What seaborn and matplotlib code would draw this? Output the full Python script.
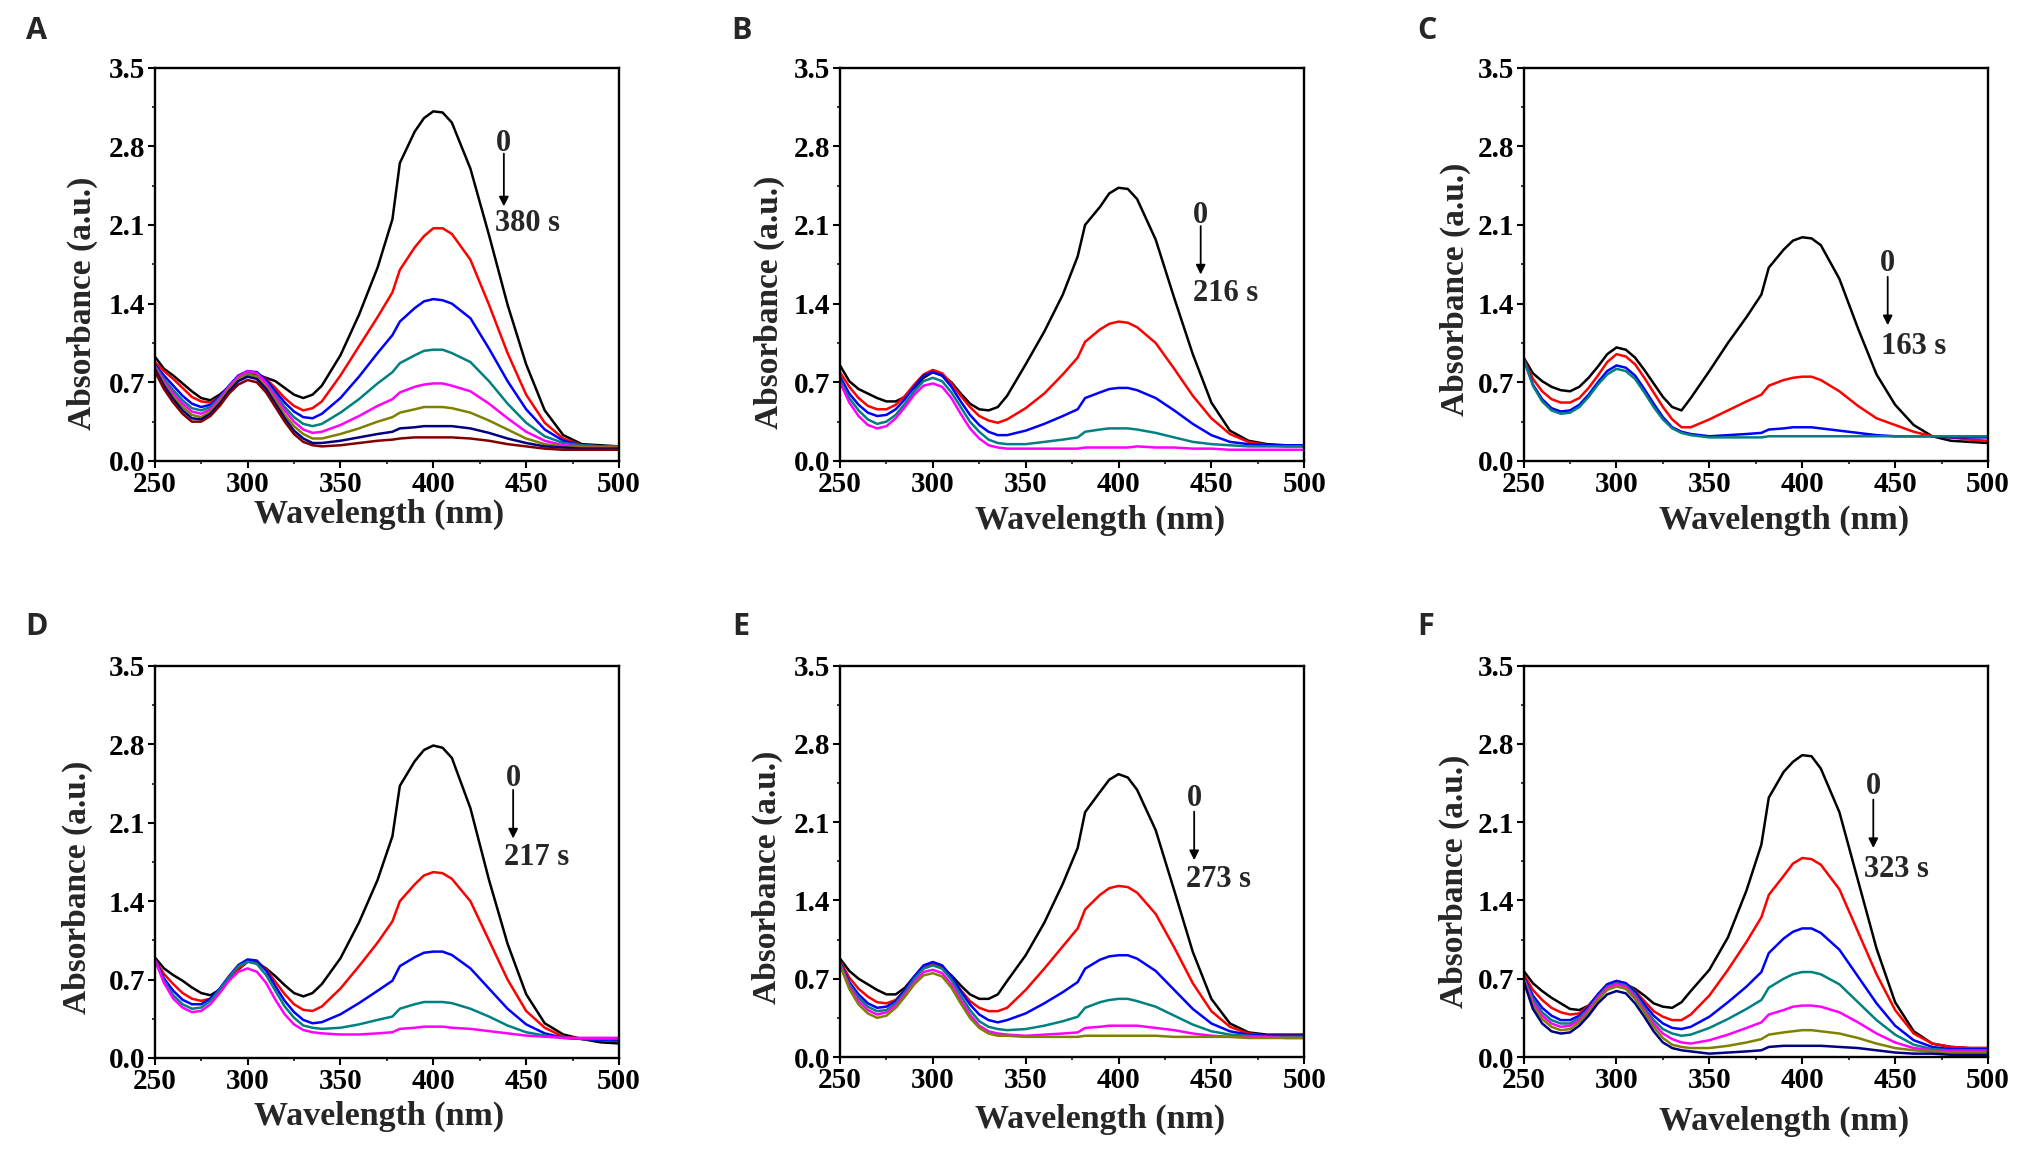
import matplotlib
matplotlib.use("Agg")
import matplotlib.pyplot as plt
import seaborn as sns
import pandas as pd
from matplotlib.ticker import MultipleLocator, FormatStrFormatter

# ---------------- data ----------------
wl = [250, 255, 260, 265, 270, 275, 280, 285, 290, 295, 300, 305, 310, 315, 320, 325, 330, 335,
      340, 350, 360, 370, 378, 382, 390, 395, 400, 405, 410, 420, 430, 440, 450, 460, 470, 480, 490, 500]

# Panel A (0 -> 380 s)
a_1 = [0.93, 0.82, 0.76, 0.69, 0.62, 0.56, 0.54, 0.59, 0.66, 0.73, 0.77, 0.77, 0.74, 0.71, 0.65, 0.59, 0.56, 0.59,
       0.67, 0.94, 1.30, 1.72, 2.15, 2.65, 2.93, 3.05, 3.11, 3.10, 3.01, 2.60, 2.01, 1.39, 0.86, 0.45, 0.23, 0.15, 0.14, 0.13]
a_2 = [0.88, 0.80, 0.73, 0.65, 0.57, 0.53, 0.52, 0.57, 0.66, 0.74, 0.78, 0.78, 0.73, 0.65, 0.56, 0.49, 0.45, 0.47,
       0.53, 0.76, 1.02, 1.28, 1.50, 1.70, 1.90, 2.00, 2.07, 2.07, 2.02, 1.79, 1.39, 0.96, 0.59, 0.34, 0.20, 0.14, 0.13, 0.12]
a_3 = [0.86, 0.76, 0.67, 0.58, 0.51, 0.48, 0.50, 0.57, 0.67, 0.76, 0.80, 0.79, 0.72, 0.62, 0.52, 0.44, 0.39, 0.38,
       0.42, 0.56, 0.75, 0.96, 1.12, 1.24, 1.36, 1.42, 1.44, 1.43, 1.40, 1.27, 1.00, 0.71, 0.46, 0.28, 0.18, 0.14, 0.13, 0.13]
a_4 = [0.85, 0.73, 0.63, 0.54, 0.47, 0.45, 0.48, 0.56, 0.66, 0.75, 0.79, 0.78, 0.70, 0.59, 0.48, 0.39, 0.33, 0.31,
       0.33, 0.43, 0.55, 0.69, 0.79, 0.87, 0.94, 0.98, 0.99, 0.99, 0.96, 0.88, 0.71, 0.51, 0.34, 0.22, 0.16, 0.14, 0.13, 0.13]
a_5 = [0.84, 0.71, 0.60, 0.51, 0.44, 0.42, 0.46, 0.55, 0.66, 0.75, 0.80, 0.78, 0.69, 0.57, 0.45, 0.35, 0.28, 0.25,
       0.26, 0.32, 0.40, 0.49, 0.55, 0.61, 0.66, 0.68, 0.69, 0.69, 0.67, 0.62, 0.51, 0.38, 0.26, 0.18, 0.14, 0.13, 0.12, 0.12]
a_6 = [0.83, 0.69, 0.57, 0.48, 0.41, 0.39, 0.44, 0.53, 0.64, 0.73, 0.77, 0.75, 0.66, 0.54, 0.41, 0.31, 0.24, 0.20,
       0.20, 0.24, 0.29, 0.35, 0.39, 0.43, 0.46, 0.48, 0.48, 0.48, 0.47, 0.43, 0.36, 0.28, 0.20, 0.15, 0.13, 0.12, 0.12, 0.12]
a_7 = [0.82, 0.67, 0.55, 0.45, 0.38, 0.37, 0.42, 0.51, 0.62, 0.71, 0.75, 0.73, 0.64, 0.51, 0.38, 0.27, 0.20, 0.16,
       0.16, 0.18, 0.21, 0.24, 0.26, 0.29, 0.30, 0.31, 0.31, 0.31, 0.31, 0.29, 0.25, 0.20, 0.16, 0.13, 0.12, 0.11, 0.11, 0.11]
a_8 = [0.80, 0.64, 0.52, 0.42, 0.35, 0.35, 0.40, 0.49, 0.60, 0.68, 0.72, 0.70, 0.61, 0.48, 0.35, 0.24, 0.17, 0.14,
       0.13, 0.14, 0.16, 0.18, 0.19, 0.20, 0.21, 0.21, 0.21, 0.21, 0.21, 0.20, 0.18, 0.15, 0.13, 0.11, 0.10, 0.10, 0.10, 0.10]

# Panel B (0 -> 216 s)
b_1 = [0.85, 0.71, 0.64, 0.60, 0.56, 0.53, 0.53, 0.57, 0.65, 0.74, 0.79, 0.76, 0.70, 0.60, 0.51, 0.46, 0.45, 0.48,
       0.58, 0.86, 1.15, 1.48, 1.82, 2.10, 2.26, 2.38, 2.43, 2.42, 2.33, 1.97, 1.45, 0.95, 0.52, 0.27, 0.18, 0.15, 0.14, 0.14]
b_2 = [0.79, 0.66, 0.56, 0.49, 0.46, 0.46, 0.50, 0.58, 0.68, 0.77, 0.81, 0.78, 0.69, 0.58, 0.48, 0.40, 0.36, 0.34,
       0.37, 0.47, 0.60, 0.77, 0.92, 1.06, 1.17, 1.22, 1.24, 1.23, 1.19, 1.05, 0.82, 0.58, 0.38, 0.24, 0.17, 0.14, 0.13, 0.13]
b_3 = [0.75, 0.60, 0.50, 0.43, 0.40, 0.41, 0.46, 0.55, 0.66, 0.76, 0.79, 0.76, 0.66, 0.53, 0.41, 0.32, 0.26, 0.23,
       0.23, 0.27, 0.33, 0.40, 0.46, 0.56, 0.61, 0.64, 0.65, 0.65, 0.63, 0.56, 0.45, 0.33, 0.23, 0.17, 0.15, 0.14, 0.14, 0.14]
b_4 = [0.72, 0.56, 0.45, 0.37, 0.33, 0.35, 0.41, 0.51, 0.62, 0.71, 0.74, 0.71, 0.61, 0.48, 0.35, 0.26, 0.19, 0.16,
       0.15, 0.15, 0.17, 0.19, 0.21, 0.26, 0.28, 0.29, 0.29, 0.29, 0.28, 0.25, 0.21, 0.17, 0.15, 0.14, 0.13, 0.13, 0.13, 0.13]
b_5 = [0.70, 0.52, 0.40, 0.32, 0.29, 0.31, 0.38, 0.48, 0.59, 0.67, 0.69, 0.66, 0.56, 0.42, 0.29, 0.20, 0.14, 0.12,
       0.11, 0.11, 0.11, 0.11, 0.11, 0.12, 0.12, 0.12, 0.12, 0.12, 0.13, 0.12, 0.12, 0.11, 0.11, 0.10, 0.10, 0.10, 0.10, 0.10]

# Panel C (0 -> 163 s)
c_1 = [0.92, 0.78, 0.71, 0.66, 0.63, 0.62, 0.66, 0.74, 0.84, 0.95, 1.01, 0.99, 0.92, 0.81, 0.69, 0.57, 0.48, 0.45,
       0.56, 0.80, 1.05, 1.28, 1.48, 1.72, 1.88, 1.96, 1.99, 1.98, 1.92, 1.62, 1.18, 0.77, 0.50, 0.32, 0.22, 0.18, 0.17, 0.16]
c_2 = [0.91, 0.73, 0.62, 0.55, 0.52, 0.52, 0.56, 0.65, 0.76, 0.88, 0.95, 0.93, 0.86, 0.74, 0.61, 0.48, 0.37, 0.30,
       0.30, 0.37, 0.45, 0.53, 0.59, 0.67, 0.72, 0.74, 0.75, 0.75, 0.72, 0.62, 0.49, 0.38, 0.32, 0.26, 0.22, 0.21, 0.19, 0.18]
c_3 = [0.91, 0.68, 0.55, 0.47, 0.44, 0.45, 0.50, 0.59, 0.70, 0.80, 0.85, 0.83, 0.76, 0.64, 0.51, 0.39, 0.30, 0.26,
       0.24, 0.22, 0.23, 0.24, 0.25, 0.28, 0.29, 0.30, 0.30, 0.30, 0.29, 0.27, 0.25, 0.23, 0.22, 0.22, 0.22, 0.21, 0.21, 0.21]
c_4 = [0.91, 0.67, 0.53, 0.45, 0.42, 0.43, 0.48, 0.57, 0.68, 0.77, 0.82, 0.80, 0.73, 0.61, 0.48, 0.37, 0.29, 0.25,
       0.23, 0.21, 0.21, 0.21, 0.21, 0.22, 0.22, 0.22, 0.22, 0.22, 0.22, 0.22, 0.22, 0.22, 0.22, 0.22, 0.22, 0.22, 0.22, 0.22]

# Panel D (0 -> 217 s)
d_1 = [0.90, 0.80, 0.74, 0.69, 0.63, 0.58, 0.56, 0.61, 0.70, 0.79, 0.86, 0.85, 0.80, 0.73, 0.65, 0.58, 0.55, 0.58,
       0.66, 0.89, 1.21, 1.59, 1.98, 2.43, 2.65, 2.75, 2.79, 2.77, 2.68, 2.23, 1.59, 1.02, 0.57, 0.31, 0.21, 0.17, 0.14, 0.13]
d_2 = [0.88, 0.75, 0.66, 0.58, 0.53, 0.51, 0.53, 0.60, 0.70, 0.80, 0.86, 0.86, 0.79, 0.68, 0.57, 0.48, 0.43, 0.42,
       0.46, 0.62, 0.82, 1.03, 1.22, 1.40, 1.55, 1.63, 1.66, 1.65, 1.60, 1.40, 1.05, 0.70, 0.42, 0.27, 0.19, 0.17, 0.16, 0.15]
d_3 = [0.88, 0.71, 0.60, 0.52, 0.48, 0.48, 0.53, 0.62, 0.73, 0.83, 0.88, 0.87, 0.78, 0.64, 0.51, 0.41, 0.34, 0.31,
       0.32, 0.39, 0.49, 0.60, 0.69, 0.82, 0.90, 0.94, 0.95, 0.95, 0.92, 0.80, 0.62, 0.44, 0.30, 0.22, 0.18, 0.17, 0.16, 0.16]
d_4 = [0.88, 0.69, 0.56, 0.48, 0.44, 0.45, 0.51, 0.61, 0.72, 0.82, 0.86, 0.84, 0.74, 0.60, 0.46, 0.36, 0.29, 0.27,
       0.26, 0.27, 0.30, 0.34, 0.37, 0.44, 0.48, 0.50, 0.50, 0.50, 0.49, 0.44, 0.37, 0.29, 0.23, 0.20, 0.18, 0.17, 0.17, 0.17]
d_5 = [0.88, 0.67, 0.53, 0.45, 0.41, 0.42, 0.48, 0.58, 0.69, 0.77, 0.80, 0.77, 0.67, 0.52, 0.39, 0.30, 0.25, 0.23,
       0.22, 0.21, 0.21, 0.22, 0.23, 0.26, 0.27, 0.28, 0.28, 0.28, 0.27, 0.26, 0.24, 0.22, 0.20, 0.19, 0.18, 0.18, 0.18, 0.18]

# Panel E (0 -> 273 s)
e_1 = [0.88, 0.77, 0.70, 0.65, 0.60, 0.56, 0.56, 0.62, 0.72, 0.81, 0.83, 0.80, 0.73, 0.64, 0.56, 0.52, 0.52, 0.56,
       0.68, 0.91, 1.20, 1.55, 1.87, 2.19, 2.37, 2.48, 2.53, 2.50, 2.39, 2.03, 1.49, 0.94, 0.52, 0.30, 0.22, 0.20, 0.20, 0.20]
e_2 = [0.86, 0.71, 0.61, 0.54, 0.49, 0.48, 0.51, 0.60, 0.71, 0.80, 0.83, 0.80, 0.71, 0.60, 0.50, 0.44, 0.41, 0.41,
       0.44, 0.60, 0.79, 0.99, 1.15, 1.32, 1.45, 1.51, 1.53, 1.52, 1.47, 1.28, 0.98, 0.66, 0.41, 0.27, 0.21, 0.19, 0.19, 0.19]
e_3 = [0.85, 0.67, 0.56, 0.48, 0.44, 0.45, 0.50, 0.60, 0.72, 0.82, 0.85, 0.82, 0.72, 0.59, 0.47, 0.38, 0.33, 0.31,
       0.33, 0.39, 0.48, 0.58, 0.67, 0.79, 0.87, 0.90, 0.91, 0.91, 0.88, 0.77, 0.60, 0.43, 0.30, 0.23, 0.20, 0.19, 0.19, 0.19]
e_4 = [0.84, 0.65, 0.53, 0.45, 0.41, 0.42, 0.48, 0.58, 0.70, 0.79, 0.82, 0.79, 0.69, 0.55, 0.42, 0.32, 0.27, 0.25,
       0.24, 0.25, 0.28, 0.32, 0.36, 0.44, 0.49, 0.51, 0.52, 0.52, 0.50, 0.45, 0.37, 0.29, 0.23, 0.20, 0.19, 0.18, 0.18, 0.18]
e_5 = [0.83, 0.63, 0.50, 0.42, 0.38, 0.40, 0.46, 0.56, 0.67, 0.76, 0.78, 0.75, 0.65, 0.51, 0.38, 0.28, 0.23, 0.21,
       0.20, 0.19, 0.20, 0.21, 0.22, 0.26, 0.27, 0.28, 0.28, 0.28, 0.28, 0.26, 0.24, 0.21, 0.19, 0.18, 0.18, 0.18, 0.17, 0.17]
e_6 = [0.82, 0.61, 0.47, 0.39, 0.35, 0.37, 0.44, 0.54, 0.65, 0.73, 0.75, 0.72, 0.62, 0.48, 0.35, 0.26, 0.21, 0.19,
       0.19, 0.18, 0.18, 0.18, 0.18, 0.19, 0.19, 0.19, 0.19, 0.19, 0.19, 0.19, 0.18, 0.18, 0.18, 0.18, 0.17, 0.17, 0.17, 0.17]

# Panel F (0 -> 323 s)
f_1 = [0.77, 0.66, 0.59, 0.53, 0.48, 0.43, 0.42, 0.46, 0.55, 0.63, 0.67, 0.65, 0.61, 0.55, 0.48, 0.45, 0.44, 0.49,
       0.59, 0.78, 1.07, 1.49, 1.90, 2.32, 2.55, 2.64, 2.70, 2.69, 2.58, 2.19, 1.58, 0.97, 0.49, 0.23, 0.12, 0.09, 0.08, 0.08]
f_2 = [0.74, 0.60, 0.51, 0.44, 0.40, 0.38, 0.39, 0.46, 0.56, 0.65, 0.68, 0.66, 0.59, 0.50, 0.41, 0.36, 0.33, 0.33,
       0.38, 0.55, 0.78, 1.03, 1.25, 1.45, 1.62, 1.73, 1.78, 1.77, 1.72, 1.50, 1.12, 0.74, 0.42, 0.21, 0.12, 0.09, 0.08, 0.08]
f_3 = [0.72, 0.55, 0.44, 0.37, 0.33, 0.33, 0.37, 0.45, 0.56, 0.65, 0.68, 0.66, 0.58, 0.47, 0.37, 0.30, 0.26, 0.25,
       0.27, 0.36, 0.49, 0.63, 0.76, 0.93, 1.06, 1.12, 1.15, 1.15, 1.11, 0.96, 0.72, 0.48, 0.28, 0.15, 0.09, 0.07, 0.07, 0.07]
f_4 = [0.71, 0.52, 0.40, 0.33, 0.30, 0.30, 0.35, 0.43, 0.54, 0.63, 0.66, 0.64, 0.56, 0.44, 0.33, 0.25, 0.21, 0.19,
       0.20, 0.26, 0.34, 0.43, 0.51, 0.62, 0.70, 0.74, 0.76, 0.76, 0.74, 0.65, 0.49, 0.33, 0.20, 0.11, 0.07, 0.06, 0.06, 0.06]
f_5 = [0.70, 0.49, 0.37, 0.30, 0.27, 0.28, 0.33, 0.42, 0.53, 0.62, 0.65, 0.63, 0.54, 0.42, 0.30, 0.21, 0.16, 0.13,
       0.12, 0.15, 0.20, 0.26, 0.31, 0.38, 0.42, 0.45, 0.46, 0.46, 0.45, 0.40, 0.31, 0.21, 0.13, 0.08, 0.06, 0.05, 0.05, 0.05]
f_6 = [0.69, 0.46, 0.34, 0.27, 0.24, 0.25, 0.31, 0.40, 0.51, 0.60, 0.63, 0.61, 0.52, 0.40, 0.27, 0.17, 0.11, 0.09,
       0.08, 0.08, 0.10, 0.13, 0.16, 0.20, 0.22, 0.23, 0.24, 0.24, 0.23, 0.21, 0.17, 0.12, 0.08, 0.06, 0.05, 0.04, 0.04, 0.04]
f_7 = [0.68, 0.43, 0.30, 0.23, 0.21, 0.22, 0.28, 0.37, 0.48, 0.56, 0.59, 0.57, 0.48, 0.36, 0.23, 0.13, 0.08, 0.06,
       0.05, 0.03, 0.04, 0.05, 0.06, 0.09, 0.10, 0.10, 0.10, 0.10, 0.10, 0.09, 0.08, 0.06, 0.04, 0.03, 0.03, 0.02, 0.02, 0.02]

panel_letters = ["A", "B", "C", "D", "E", "F"]
end_times = ["380 s", "216 s", "163 s", "217 s", "273 s", "323 s"]
x_ticks = [250, 300, 350, 400, 450, 500]
y_ticks = [0.0, 0.7, 1.4, 2.1, 2.8, 3.5]

# ---------------- style ----------------
line_colors = ["#000000", "#FF0000", "#0000FF", "#008080", "#FF00FF", "#808000", "#000080", "#800000"]

sns.set_theme(style="ticks")
plt.rcParams['font.family'] = ['Liberation Serif', 'DejaVu Serif']
plt.rcParams['font.weight'] = 'bold'
plt.rcParams['axes.labelweight'] = 'bold'

W, H = 2027, 1164
fig = plt.figure(figsize=(W / 100, H / 100), dpi=100)
fig.patch.set_facecolor('white')

axes_px = [  # left, top, right, bottom (pixels)
    (154.7, 67.5, 619.0, 461.0),
    (840.0, 67.5, 1304.2, 461.0),
    (1523.6, 67.5, 1988.0, 461.0),
    (154.7, 666.0, 619.0, 1058.0),
    (840.0, 665.7, 1304.2, 1057.0),
    (1523.6, 665.7, 1988.0, 1057.0),
]
letter_px = [(36, 31), (741, 31), (1427, 31), (36, 627), (741, 627), (1426, 627)]
ylabel_pos = [(-0.155, 0.40), (-0.152, 0.403), (-0.146, 0.436), (-0.166, 0.435), (-0.157, 0.458), (-0.150, 0.448)]
xlabel_pos = [(0.483, -0.135), (0.56, -0.150), (0.56, -0.150), (0.483, -0.148), (0.56, -0.160), (0.56, -0.165)]
# annotation: (x of "0", y of "0", arrow start y, arrow end y, x of time text, y of time text)
annot = [
    (0.752, 0.807, 0.781, 0.647, 0.732, 0.603),
    (0.777, 0.625, 0.597, 0.474, 0.760, 0.425),
    (0.784, 0.501, 0.468, 0.345, 0.770, 0.290),
    (0.772, 0.712, 0.684, 0.560, 0.752, 0.511),
    (0.763, 0.660, 0.627, 0.503, 0.746, 0.453),
    (0.753, 0.691, 0.658, 0.534, 0.734, 0.479),
]

panel_series = [
    [a_1, a_2, a_3, a_4, a_5, a_6, a_7, a_8],
    [b_1, b_2, b_3, b_4, b_5],
    [c_1, c_2, c_3, c_4],
    [d_1, d_2, d_3, d_4, d_5],
    [e_1, e_2, e_3, e_4, e_5, e_6],
    [f_1, f_2, f_3, f_4, f_5, f_6, f_7],
]

for i, series in enumerate(panel_series):
    l, t, r, b = axes_px[i]
    ax = fig.add_axes([l / W, 1 - b / H, (r - l) / W, (b - t) / H])
    names, xs, ys = [], [], []
    for k, s in enumerate(series):
        names += [f"s{k}"] * len(wl)
        xs += wl
        ys += s
    df = pd.DataFrame({"wl": xs, "A": ys, "curve": names})
    order = [f"s{k}" for k in range(len(series))]
    pal = {f"s{k}": line_colors[k] for k in range(len(series))}
    sns.lineplot(data=df, x="wl", y="A", hue="curve", hue_order=order, palette=pal,
                 estimator=None, sort=False, legend=False, linewidth=1.8, ax=ax)

    ax.set_xlim(250, 500)
    ax.set_ylim(0, 3.5)
    ax.set_xticks(x_ticks)
    ax.set_yticks(y_ticks)
    ax.xaxis.set_minor_locator(MultipleLocator(25))
    ax.yaxis.set_minor_locator(MultipleLocator(0.35))
    ax.yaxis.set_major_formatter(FormatStrFormatter('%.1f'))
    ax.tick_params(which='major', direction='out', length=5, width=1.5, labelsize=21, pad=2,
                   colors='black', top=False, right=False)
    ax.tick_params(which='minor', direction='out', length=2.5, width=1.3, top=False, right=False)
    for lab in ax.get_xticklabels() + ax.get_yticklabels():
        lab.set_fontweight('bold')
    for sp in ax.spines.values():
        sp.set_visible(True)
        sp.set_linewidth(1.7)
        sp.set_color('black')
    ax.grid(False)

    ax.set_xlabel("Wavelength (nm)", fontsize=24.5, fontweight='bold')
    ax.set_ylabel("Absorbance (a.u.)", fontsize=24, fontweight='bold')
    ax.xaxis.set_label_coords(*xlabel_pos[i])
    ax.yaxis.set_label_coords(*ylabel_pos[i])
    ax.xaxis.label.set_verticalalignment('center')
    ax.yaxis.label.set_verticalalignment('center')

    x0, y0, ya, yb, xt, yt = annot[i]
    ax.text(x0, y0, "0", transform=ax.transAxes, ha='center', va='center',
            fontsize=22, fontweight='bold')
    ax.annotate("", xy=(x0, yb), xytext=(x0, ya), xycoords='axes fraction',
                arrowprops=dict(arrowstyle='-|>', color='black', lw=1.3,
                                mutation_scale=14, shrinkA=0, shrinkB=0))
    ax.text(xt, yt, end_times[i], transform=ax.transAxes, ha='left', va='center',
            fontsize=22, fontweight='bold')

    lx, ly = letter_px[i]
    fig.text(lx / W, 1 - ly / H, panel_letters[i], ha='center', va='center',
             fontsize=22, fontweight='bold', family=['Open Sans', 'DejaVu Sans'])

fig.savefig("out.png", dpi=100, facecolor='white')
